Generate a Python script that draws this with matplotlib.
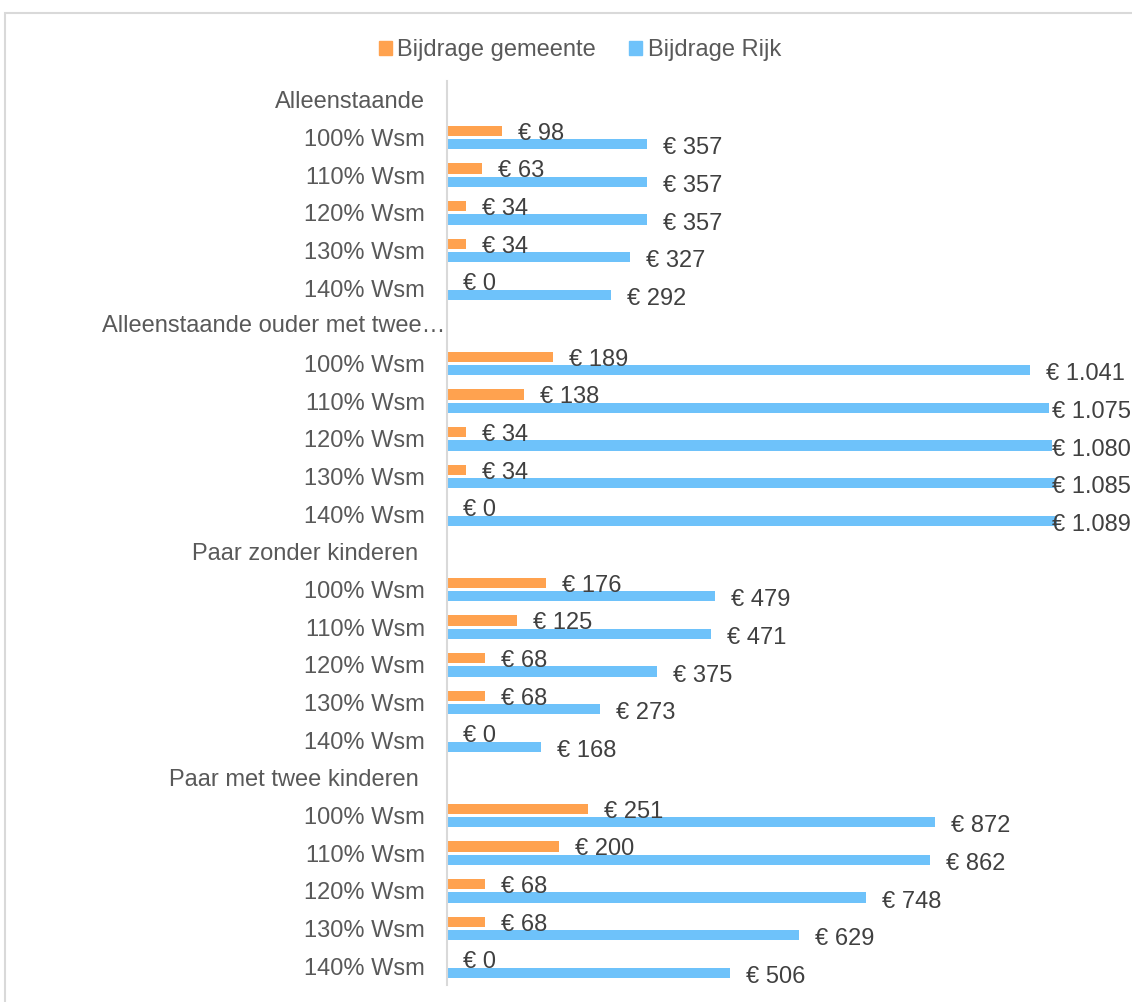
import matplotlib
matplotlib.use('Agg')
import matplotlib.pyplot as plt
from matplotlib.patches import Patch, Rectangle

plt.rcParams['font.family'] = ['Liberation Sans', 'DejaVu Sans']

# Groups and income levels
groups = ['Alleenstaande', 'Alleenstaande ouder met twee\u2026', 'Paar zonder kinderen ', 'Paar met twee kinderen ']
levels = ['100% Wsm', '110% Wsm', '120% Wsm', '130% Wsm', '140% Wsm']

# Contributions per group (same order as levels)
gemeente = [
    [98, 63, 34, 34, 0],
    [189, 138, 34, 34, 0],
    [176, 125, 68, 68, 0],
    [251, 200, 68, 68, 0],
]
rijk = [
    [357, 357, 357, 327, 292],
    [1041, 1075, 1080, 1085, 1089],
    [479, 471, 375, 273, 168],
    [872, 862, 748, 629, 506],
]

orange = '#FFA24F'
blue = '#6EC2FA'
label_col = '#595959'
value_col = '#404040'

px_per_unit = 0.5602          # horizontal scale of the plot
label_gap = 16 / px_per_unit  # gap between bar end and value label
label_max = (1052 - 447) / px_per_unit  # labels stay inside the chart area


def euro(v):
    return '\u20ac ' + f'{v:,}'.replace(',', '.')


fig = plt.figure(figsize=(11.32, 10.02), dpi=100)

# light chart border
fig.patches.append(Rectangle((5 / 1132, -0.1), 1.2, 1.1 - 13 / 1002,
                             transform=fig.transFigure, fill=False,
                             edgecolor='#D9D9D9', linewidth=1.5))

ax = fig.add_axes([447 / 1132, 1 - 985 / 1002, (1132 - 447) / 1132, (985 - 81) / 1002])

rows = []
row_labels = []
r = 0
for g, name in enumerate(groups):
    rows.append(r)
    row_labels.append(name)
    r += 1
    for i, lev in enumerate(levels):
        rows.append(r)
        row_labels.append(lev)
        ax.barh(r - 0.175, gemeente[g][i], height=0.27, color=orange)
        ax.barh(r + 0.175, rijk[g][i], height=0.27, color=blue)
        ax.annotate(euro(gemeente[g][i]), xy=(min(gemeente[g][i] + label_gap, label_max), r - 0.175),
                    xytext=(0, -2), textcoords='offset points',
                    ha='left', va='center', fontsize=17, color=value_col,
                    annotation_clip=False)
        ax.annotate(euro(rijk[g][i]), xy=(min(rijk[g][i] + label_gap, label_max), r + 0.175),
                    xytext=(0, -3), textcoords='offset points',
                    ha='left', va='center', fontsize=17, color=value_col,
                    annotation_clip=False)
        r += 1

ax.set_xlim(0, (1132 - 447) / px_per_unit)
ax.set_ylim(r - 0.5, -0.5)

# the truncated label sits further right than the others
tick_labels = ['' if lab.endswith('\u2026') else lab for lab in row_labels]
ax.set_yticks(rows, labels=tick_labels)
ax.tick_params(axis='y', length=0, pad=15.8, labelsize=17, labelcolor=label_col)
for pos, lab in zip(rows, row_labels):
    if lab.endswith('\u2026'):
        ax.annotate(lab, xy=(0, pos), xycoords=ax.get_yaxis_transform(),
                    xytext=(-1.5, 0), textcoords='offset points',
                    ha='right', va='center', fontsize=17, color=label_col,
                    annotation_clip=False)

ax.set_xticks([])
for s in ['top', 'right', 'bottom']:
    ax.spines[s].set_visible(False)
ax.spines['left'].set_color('#D9D9D9')
ax.spines['left'].set_linewidth(1.5)

handles = [Patch(color=orange, label='Bijdrage gemeente'),
           Patch(color=blue, label='Bijdrage Rijk')]
fig.legend(handles=handles, loc='center', bbox_to_anchor=(580 / 1132, 1 - 50 / 1002),
           ncol=2, frameon=False, fontsize=17, handlelength=0.55, handleheight=0.55,
           handletextpad=0.25, columnspacing=1.4, labelcolor=label_col)

fig.savefig('out.png', dpi=100)
